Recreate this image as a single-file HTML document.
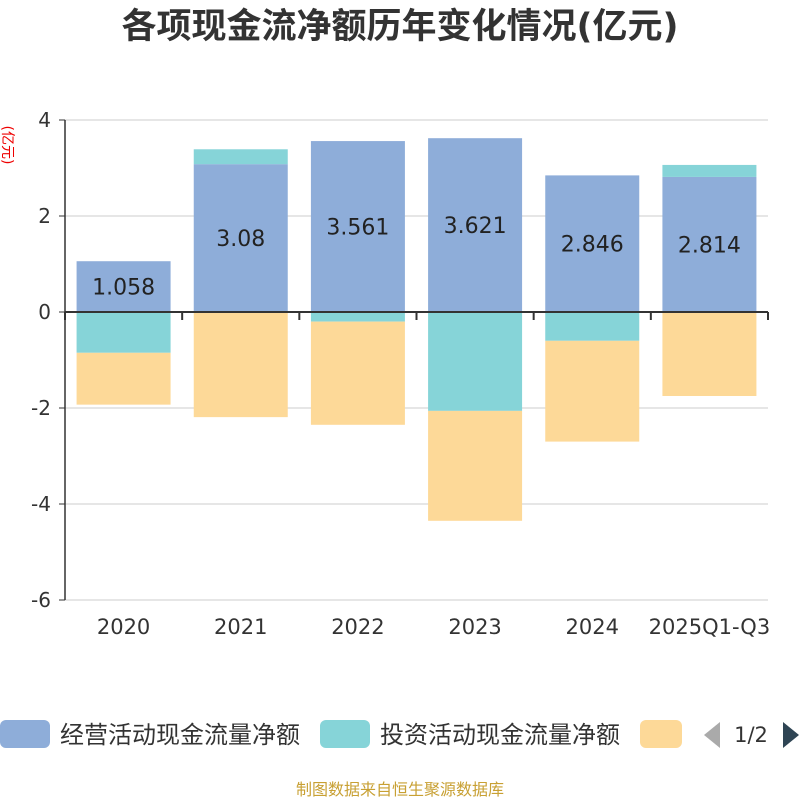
<!DOCTYPE html>
<html><head><meta charset="utf-8"><style>
body{margin:0;background:#fff;width:800px;height:800px;overflow:hidden;font-family:"Liberation Sans","Noto Sans CJK SC",sans-serif}
</style></head><body>
<svg width="800" height="800" xmlns="http://www.w3.org/2000/svg" id="chart" font-family="DejaVu Sans, Noto Sans CJK SC, sans-serif">
<text x="400" y="38" text-anchor="middle" font-size="35" font-weight="bold" fill="#333">各项现金流净额历年变化情况(亿元)</text>
<text transform="translate(3,145) rotate(90)" text-anchor="middle" font-size="14" fill="#e00">(亿元)</text>
<g id="grid"></g><g id="bars"></g><g id="axes"></g>
<g>
<rect x="0" y="720" width="50" height="28" rx="6" fill="#8eadd9"/>
<text x="60" y="743" font-size="24" fill="#333">经营活动现金流量净额</text>
<rect x="320" y="720" width="50" height="28" rx="6" fill="#86d4d8"/>
<text x="380" y="743" font-size="24" fill="#333">投资活动现金流量净额</text>
<rect x="640" y="720" width="42" height="28" rx="6" fill="#fdd998"/>
<polygon points="720,722 720,748 704,735" fill="#aaa"/>
<text x="751" y="742" text-anchor="middle" font-size="21" fill="#333">1/2</text>
<polygon points="783,722 783,748 799,735" fill="#2f4554"/>
</g>
<text x="400" y="795" text-anchor="middle" font-size="16" fill="#c8a033">制图数据来自恒生聚源数据库</text>
</svg>
<script>
const categories=["2020","2021","2022","2023","2024","2025Q1-Q3"];
const operating=[1.058,3.08,3.561,3.621,2.846,2.814];
const investing=[-0.85,0.31,-0.2,-2.06,-0.6,0.25];
const financing=[-1.08,-2.19,-2.15,-2.29,-2.1,-1.75];
const yTicks=[4,2,0,-2,-4,-6];
const NS="http://www.w3.org/2000/svg";
const x0=65,x1=768,yTop=120,yBot=600,yMax=4,yMin=-6;
const y=v=>yTop+(yMax-v)*(yBot-yTop)/(yMax-yMin);
const band=(x1-x0)/categories.length;
const cx=i=>x0+band*(i+0.5);
const bw=94;
function mk(tag,attrs,parent){const e=document.createElementNS(NS,tag);for(const k in attrs)e.setAttribute(k,attrs[k]);document.getElementById(parent).appendChild(e);return e;}
yTicks.forEach(t=>{
 if(t!==0){const l=mk('line',{x1:x0,x2:x1,y1:y(t),y2:y(t),stroke:'#ccc'},'grid');
 
 }
 const tk=mk('line',{x1:x0-6,x2:x0,y1:y(t),y2:y(t),stroke:'#333'},'axes');
 
 
 const tx=mk('text',{x:x0-14,y:y(t)+7,'text-anchor':'end','font-size':20,fill:'#333'},'axes');
 tx.textContent=t;
 
 
});
const colors={op:'#8eadd9',inv:'#86d4d8',fin:'#fdd998'};
categories.forEach((c,i)=>{
 let pos=0,neg=0;
 const segs=[[operating[i],colors.op,'bar-operating'],[investing[i],colors.inv,'bar-investing'],[financing[i],colors.fin,'bar-financing']];
 segs.forEach(([v,col,nm])=>{
  let a,b;
  if(v>=0){a=pos;b=pos+v;pos=b;}else{a=neg;b=neg+v;neg=b;}
  const top=y(Math.max(a,b)),h=Math.abs(y(a)-y(b));
  const r=mk('rect',{x:cx(i)-bw/2,y:top,width:bw,height:h,fill:col},'bars');
  
  
 });
 const lb=mk('text',{x:cx(i),y:y(operating[i]/2)+8,'text-anchor':'middle','font-size':22,fill:'#222'},'bars');
 lb.textContent=operating[i];
 
 
 const xl=mk('text',{x:cx(i),y:634,'text-anchor':'middle','font-size':21,fill:'#333'},'axes');
 xl.textContent=c;
 
 
});
for(let i=0;i<=categories.length;i++){
 const t=mk('line',{x1:x0+band*i,x2:x0+band*i,y1:y(0),y2:y(0)+8,stroke:'#333','stroke-width':2},'axes');
 
 
}
const xa=mk('line',{x1:x0,x2:x1,y1:y(0),y2:y(0),stroke:'#333','stroke-width':2},'axes');


const ya=mk('line',{x1:x0,x2:x0,y1:yTop,y2:yBot,stroke:'#333','stroke-width':1.5},'axes');


</script>
</body></html>
